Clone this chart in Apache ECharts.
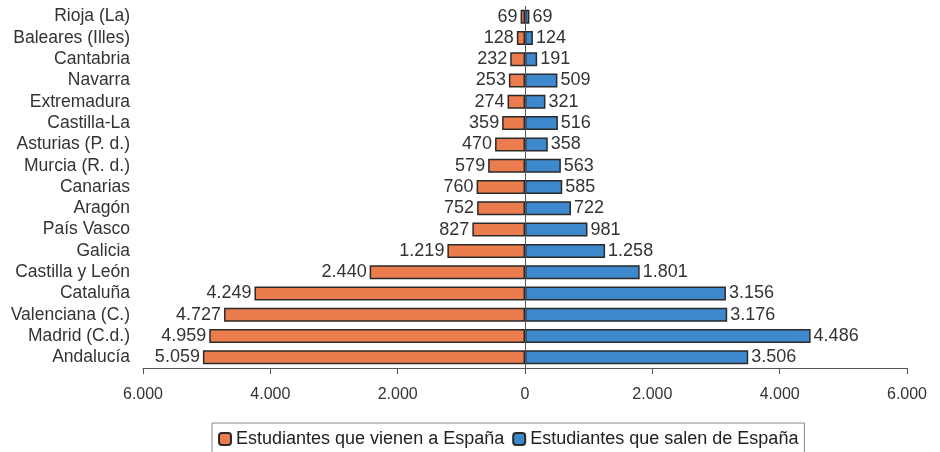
<!DOCTYPE html>
<html><head><meta charset="utf-8">
<script src="https://cdn.jsdelivr.net/npm/echarts@6/dist/echarts.min.js"></script>
<style>html,body{margin:0;padding:0;background:#fff}#c{width:940px;height:452px}</style>
</head><body><div id="c"></div>
<script>
const categories = ["Rioja (La)","Baleares (Illes)","Cantabria","Navarra","Extremadura","Castilla-La","Asturias (P. d.)","Murcia (R. d.)","Canarias","Aragón","País Vasco","Galicia","Castilla y León","Cataluña","Valenciana (C.)","Madrid (C.d.)","Andalucía"];
const vienen = [69,128,232,253,274,359,470,579,760,752,827,1219,2440,4249,4727,4959,5059];
const salen = [69,124,191,509,321,516,358,563,585,722,981,1258,1801,3156,3176,4486,3506];
const seriesNames = ["Estudiantes que vienen a España","Estudiantes que salen de España"];
const axisTicks = [-6000,-4000,-2000,0,2000,4000,6000];

function fmt(v){ return Math.abs(v).toString().replace(/\B(?=(\d{3})+(?!\d))/g,'.'); }
const FONT = '"Liberation Sans", Arial, sans-serif';
const chart = echarts.init(document.getElementById('c'));
chart.setOption({
  animation:false,
  textStyle:{fontFamily:FONT},
  grid:{left:143,right:33,top:6,bottom:84},
  legend:{
    top:423, left:212,
    data:seriesNames,
    itemWidth:12,itemHeight:12,itemGap:8,
    borderColor:'#888',borderWidth:1,padding:[7,6,8,6],
    textStyle:{fontSize:18,color:'#222',fontFamily:FONT}
  },
  xAxis:{
    type:'value',min:axisTicks[0],max:axisTicks[axisTicks.length-1],interval:2000,
    axisLine:{show:true,onZero:false,lineStyle:{color:'#555',width:1}},
    axisTick:{show:true,length:6,lineStyle:{color:'#555'}},
    splitLine:{show:false},
    axisLabel:{formatter:fmt,fontSize:16,color:'#333',margin:19,fontFamily:FONT}
  },
  yAxis:{
    type:'category',data:categories,inverse:true,
    axisLine:{show:false},axisTick:{show:false},
    axisLabel:{interval:0,fontSize:17.5,color:'#333',margin:143-130,fontFamily:FONT}
  },
  series:[
    {name:seriesNames[0],type:'bar',data:vienen.map(v=>-v),barWidth:14,barGap:'-100%',
     itemStyle:{color:'#EA7C4D',borderColor:'#2a2a2a',borderWidth:1.5},
     label:{show:true,position:'left',distance:3,formatter:p=>fmt(p.value),fontSize:18,color:'#333',fontFamily:FONT},
     markLine:{silent:true,symbol:'none',label:{show:false},lineStyle:{color:'#555',width:1,type:'solid'},data:[{xAxis:0}]}
    },
    {name:seriesNames[1],type:'bar',data:salen,barWidth:14,
     itemStyle:{color:'#3E88CD',borderColor:'#2a2a2a',borderWidth:1.5},
     label:{show:true,position:'right',distance:3,formatter:p=>fmt(p.value),fontSize:18,color:'#333',fontFamily:FONT}
    }
  ]
});
</script></body></html>
